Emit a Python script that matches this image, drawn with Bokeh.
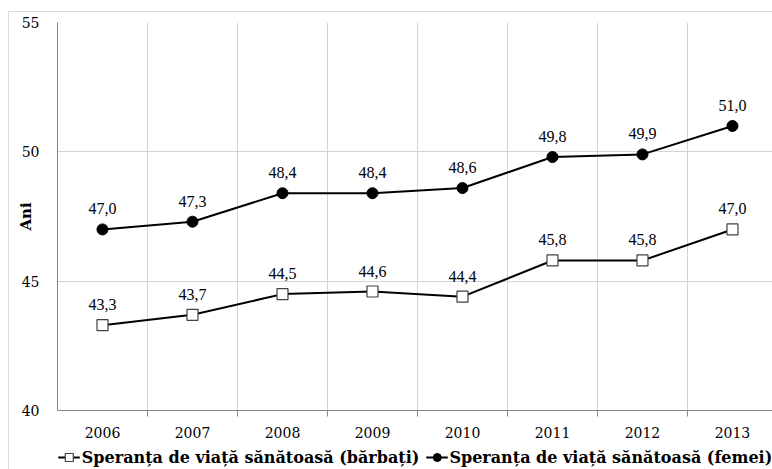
from bokeh.plotting import figure
from bokeh.layouts import column
from bokeh.models import (ColumnDataSource, FixedTicker, LabelSet, Legend,
                          LegendItem, Range1d)
from bokeh.embed import file_html
from bokeh.resources import INLINE

years = ["2006", "2007", "2008", "2009", "2010", "2011", "2012", "2013"]
barbati = [43.3, 43.7, 44.5, 44.6, 44.4, 45.8, 45.8, 47.0]
femei = [47.0, 47.3, 48.4, 48.4, 48.6, 49.8, 49.9, 51.0]
y_ticks = [40, 45, 50, 55]
name_b = "Speranța de viață sănătoasă (bărbați)"
name_f = "Speranța de viață sănătoasă (femei)"
y_title = "Ani"

FONT = "DejaVu Serif"
xs = list(range(len(years)))

def fmt(v):
    return f"{v:.1f}".replace(".", ",")

src_b = ColumnDataSource(dict(x=xs, y=barbati, t=[fmt(v) for v in barbati]))
src_f = ColumnDataSource(dict(x=xs, y=femei, t=[fmt(v) for v in femei]))

p = figure(width=764, height=432, output_backend="svg", toolbar_location=None,
           x_range=Range1d(-0.5, 7.456), y_range=Range1d(40, 55),
           min_border_left=48, min_border_top=10, min_border_bottom=34, min_border_right=0)
p.outline_line_color = None

# axes
p.xaxis.ticker = FixedTicker(ticks=xs, minor_ticks=[i + 0.5 for i in range(7)])
p.xaxis.major_label_overrides = {i: y for i, y in enumerate(years)}
p.xaxis.major_tick_out = 0
p.xaxis.major_tick_in = 0
p.xaxis.minor_tick_out = 6
p.xaxis.minor_tick_in = 0
p.xaxis.minor_tick_line_color = "#868686"
p.xaxis.axis_line_color = "#868686"
p.xaxis.major_label_text_font = FONT
p.xaxis.major_label_text_font_size = "14px"
p.xaxis.major_label_text_color = "#000000"
p.xaxis.major_label_standoff = 10

p.yaxis.ticker = FixedTicker(ticks=y_ticks)
p.yaxis.major_tick_out = 0
p.yaxis.major_tick_in = 0
p.yaxis.minor_tick_line_color = None
p.yaxis.axis_line_color = "#868686"
p.yaxis.major_label_text_font = FONT
p.yaxis.major_label_text_font_size = "14px"
p.yaxis.major_label_text_color = "#000000"
p.yaxis.major_label_standoff = 18
p.yaxis.axis_label = y_title
p.yaxis.axis_label_text_font = FONT
p.yaxis.axis_label_text_font_size = "15px"
p.yaxis.axis_label_text_font_style = "bold"
p.yaxis.axis_label_text_color = "#000000"
p.yaxis.axis_label_standoff = -16

p.xgrid.ticker = FixedTicker(ticks=[i + 0.5 for i in range(8)])
p.xgrid.grid_line_color = "#d4d4d4"
p.ygrid.grid_line_color = "#d4d4d4"

# series
def draw(fig, src, marker, fill, edge, lw):
    ln = fig.line("x", "y", source=src, line_color="#000000", line_width=2)
    sc = fig.scatter("x", "y", source=src, marker=marker, size=11,
                     fill_color=fill, line_color=edge, line_width=lw)
    return ln, sc

draw(p, src_f, "circle", "#000000", "#000000", 1)
draw(p, src_b, "square", "#ffffff", "#404040", 1.2)

for s in (src_b, src_f):
    p.add_layout(LabelSet(x="x", y="y", text="t", source=s, y_offset=15,
                          text_align="center", text_baseline="bottom",
                          text_font=FONT, text_font_size="16px", text_color="#000000"))

# legend strip (series drawn out of its view, only the legend shows)
lg = figure(width=764, height=26, output_backend="svg", toolbar_location=None,
            x_range=Range1d(0, 1), y_range=Range1d(0, 1),
            x_axis_type=None, y_axis_type=None,
            min_border_left=0, min_border_right=0, min_border_top=0, min_border_bottom=0)
lg.outline_line_color = None
lg.grid.visible = False
lb, sb = draw(lg, src_b, "square", "#ffffff", "#404040", 1.2)
lf, sf = draw(lg, src_f, "circle", "#000000", "#000000", 1)

legend = Legend(items=[LegendItem(label=name_b, renderers=[lb, sb]),
                       LegendItem(label=name_f, renderers=[lf, sf])],
                orientation="horizontal", location="center",
                background_fill_alpha=0, border_line_color=None,
                label_text_font=FONT, label_text_font_size="16px",
                label_text_font_style="bold", label_text_color="#000000",
                glyph_width=22, label_standoff=2, spacing=6, padding=0, margin=0)
lg.add_layout(legend)

layout = column(p, lg, spacing=0)
layout.styles = {"margin-left": "8px", "margin-top": "11px",
                 "border-left": "1px solid #d9d9d9", "border-top": "1px solid #d9d9d9"}

open("out.html", "w").write(file_html(layout, INLINE))
